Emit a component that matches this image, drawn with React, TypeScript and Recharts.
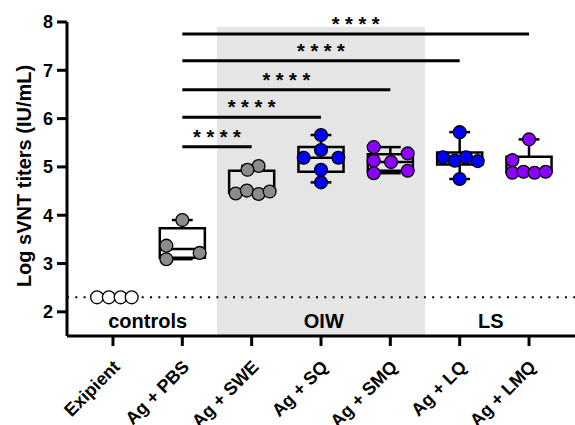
import React from "react";
import {
  ComposedChart,
  Scatter,
  XAxis,
  YAxis,
  ReferenceArea,
  ReferenceLine,
  ReferenceDot,
} from "recharts";

const categories = ["Exipient", "Ag + PBS", "Ag + SWE", "Ag + SQ", "Ag + SMQ", "Ag + LQ", "Ag + LMQ"];
const yTicks = [2, 3, 4, 5, 6, 7, 8];

// log sVNT titers per animal
const exipientValues = [2.3, 2.3, 2.3, 2.3];
const pbsValues = [3.9, 3.37, 3.09, 3.22];
const sweValues = [5.02, 4.94, 4.45, 4.51, 4.44, 4.49];
const sqValues = [5.66, 5.35, 5.19, 5.19, 4.94, 4.68];
const smqValues = [5.41, 5.13, 4.87, 5.1, 5.28, 4.92];
const lqValues = [5.72, 5.2, 5.13, 5.2, 5.12, 4.75];
const lmqValues = [5.57, 5.14, 4.88, 4.9, 4.88, 4.9];

// horizontal spread of the dots, in category units
const exipientJitter = [-0.23, -0.06, 0.11, 0.27];
const pbsJitter = [0, -0.23, -0.23, 0.25];
const sweJitter = [0.1, -0.06, -0.23, -0.07, 0.1, 0.26];
const sqJitter = [0, 0, -0.25, 0.25, 0, 0];
const smqJitter = [-0.24, -0.24, -0.24, 0.01, 0.25, 0.25];
const lqJitter = [0, -0.24, -0.07, 0.09, 0.26, 0];
const lmqJitter = [0, -0.24, -0.24, -0.08, 0.08, 0.24];

// box plot stats per group (PBS .. LMQ): min, q1, median, q3, max
const boxMin = [3.09, 4.44, 4.68, 4.87, 4.75, 4.88];
const boxQ1 = [3.12, 4.46, 4.9, 4.92, 5.05, 4.89];
const boxMedian = [3.3, 4.5, 5.19, 5.1, 5.17, 4.9];
const boxQ3 = [3.73, 4.92, 5.41, 5.26, 5.3, 5.21];
const boxMax = [3.9, 5.02, 5.66, 5.41, 5.72, 5.57];

// significance brackets, all from Ag + PBS
const sigEnds = [2, 3, 4, 5, 6];
const sigHeights = [5.42, 6.03, 6.6, 7.2, 7.75];

const groupLabels = ["controls", "OIW", "LS"];
const groupLabelX = [0.5, 3.04, 5.45];

const FONT = "'Liberation Sans', Arial, sans-serif";
const GRAY = "#8c8c8c";
const BLUE = "#0000ff";
const PURPLE = "#8b00ff";

const groups = [
  { values: exipientValues, jitter: exipientJitter, color: "#ffffff" },
  { values: pbsValues, jitter: pbsJitter, color: GRAY },
  { values: sweValues, jitter: sweJitter, color: GRAY },
  { values: sqValues, jitter: sqJitter, color: BLUE },
  { values: smqValues, jitter: smqJitter, color: PURPLE },
  { values: lqValues, jitter: lqJitter, color: BLUE },
  { values: lmqValues, jitter: lmqJitter, color: PURPLE },
];

const BOX_HALF = 0.325;
const CAP_HALF = 0.15;

const CategoryTick = (props: any) => {
  const { x, y, payload } = props;
  return (
    <g transform={`translate(${x + 8},${y + 20})`}>
      <text
        transform="rotate(-45)"
        textAnchor="end"
        fontSize={18}
        fontWeight="bold"
        fontFamily={FONT}
        fill="#000"
      >
        {categories[payload.value]}
      </text>
    </g>
  );
};

const centerText = (text: string, size: number, dy: number) => (props: any) => {
  const vb = props.viewBox;
  return (
    <text
      x={vb.x + vb.width / 2}
      y={vb.y + vb.height / 2 + dy}
      textAnchor="middle"
      fontSize={size}
      fontWeight="bold"
      fontFamily={FONT}
      fill="#000"
    >
      {text}
    </text>
  );
};

const Dot = (color: string) => (p: any) => (
  <circle cx={p.cx} cy={p.cy} r={6.4} fill={color} stroke="#000" strokeWidth={1.3} />
);

const seg = (x1: number, y1: number, x2: number, y2: number, key: string, w = 2.5) => (
  <ReferenceLine
    key={key}
    segment={[{ x: x1, y: y1 }, { x: x2, y: y2 }]}
    stroke="#000"
    strokeWidth={w}
    ifOverflow="visible"
  />
);

export default function App() {
  return (
    <div style={{ position: "absolute", left: 0, top: 0 }}>
      <ComposedChart
        width={575}
        height={425}
        margin={{ top: 22, right: 0, bottom: 0, left: 0 }}
        style={{ fontFamily: FONT }}
      >
        <XAxis
          type="number"
          dataKey="x"
          domain={[-0.663, 6.663]}
          ticks={[0, 1, 2, 3, 4, 5, 6]}
          interval={0}
          allowDataOverflow
          height={89}
          tickSize={10}
          tick={<CategoryTick />}
          axisLine={{ stroke: "#000", strokeWidth: 3 }}
          tickLine={{ stroke: "#000", strokeWidth: 3 }}
        />
        <YAxis
          type="number"
          dataKey="y"
          domain={[1.5, 8]}
          ticks={yTicks}
          interval={0}
          allowDataOverflow
          width={67}
          tickSize={10}
          tickMargin={4}
          tick={{ fontSize: 18, fontWeight: "bold", fill: "#000", fontFamily: FONT }}
          axisLine={{ stroke: "#000", strokeWidth: 3 }}
          tickLine={{ stroke: "#000", strokeWidth: 3 }}
          label={() => (
            <text
              transform="translate(24,176) rotate(-90)"
              textAnchor="middle"
              dominantBaseline="central"
              fontSize={20}
              fontWeight="bold"
              fontFamily={FONT}
              fill="#000"
            >
              Log sVNT titers (IU/mL)
            </text>
          )}
        />
        <ReferenceArea x1={1.5} x2={4.5} y1={1.5} y2={7.9} fill="#e5e5e5" fillOpacity={1} stroke="none" />
        <ReferenceLine y={2.3} stroke="#000" strokeWidth={2} strokeDasharray="2 6.3" />
        {sigEnds.map((end, i) => seg(1, sigHeights[i], end, sigHeights[i], `sig${i}`, 3))}
        {sigEnds.map((end, i) => (
          <ReferenceDot
            key={`star${i}`}
            x={(1 + end) / 2}
            y={sigHeights[i]}
            r={0}
            fill="none"
            stroke="none"
            ifOverflow="visible"
            label={centerText("* * * *", 20, -3)}
          />
        ))}
        {groupLabels.map((g, i) => (
          <ReferenceDot
            key={g}
            x={groupLabelX[i]}
            y={1.82}
            r={0}
            fill="none"
            stroke="none"
            ifOverflow="visible"
            label={centerText(g, 20, 7)}
          />
        ))}
        {boxMin.map((_, i) => {
          const c = i + 1;
          return (
            <ReferenceArea
              key={`box${i}`}
              x1={c - BOX_HALF}
              x2={c + BOX_HALF}
              y1={boxQ1[i]}
              y2={boxQ3[i]}
              fill="none"
              stroke="#000"
              strokeWidth={2.5}
              ifOverflow="visible"
            />
          );
        })}
        {boxMin.map((_, i) => {
          const c = i + 1;
          return [
            seg(c - BOX_HALF, boxMedian[i], c + BOX_HALF, boxMedian[i], `med${i}`),
            seg(c, boxQ3[i], c, boxMax[i], `wu${i}`),
            seg(c, boxQ1[i], c, boxMin[i], `wl${i}`),
            seg(c - CAP_HALF, boxMax[i], c + CAP_HALF, boxMax[i], `cu${i}`),
            seg(c - CAP_HALF, boxMin[i], c + CAP_HALF, boxMin[i], `cl${i}`),
          ];
        })}
        {groups.map((g, gi) => (
          <Scatter
            key={`pts${gi}`}
            data={g.values.map((v, i) => ({ x: gi + g.jitter[i], y: v }))}
            shape={Dot(g.color)}
            isAnimationActive={false}
          />
        ))}
      </ComposedChart>
    </div>
  );
}
